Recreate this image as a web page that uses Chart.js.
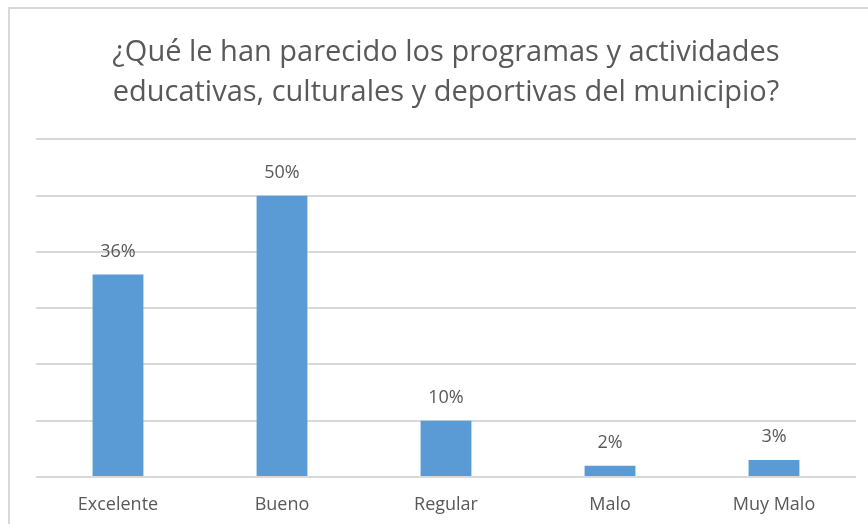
<!DOCTYPE html>
<html>
<head>
<meta charset="utf-8">
<script src="https://cdn.jsdelivr.net/npm/chart.js@4.4.1/dist/chart.umd.min.js"></script>
<style>
    html, body { margin: 0; padding: 0; background: #fff; overflow: hidden; }
    #frame { position: absolute; left: 8px; top: 7px; width: 900px; height: 560px; border: 2px solid #d9d9d9; }
    #wrap { position: absolute; left: 0; top: 0; width: 868px; height: 524px; }
</style>
</head>
<body>
<div id="frame"></div>
<div id="wrap"><canvas id="bar-chart"></canvas></div>
<script>
    var categories = ['Excelente', 'Bueno', 'Regular', 'Malo', 'Muy Malo'];
    var percentValues = [36, 50, 10, 2, 3];
    var titleLines = ['¿Qué le han parecido los programas y actividades', 'educativas, culturales y deportivas del municipio?'];

    var textColor = '#595959';
    var barColor = '#5b9bd5';
    var fontFamily = '"Open Sans", sans-serif';

    // value labels above each bar (no datalabels plugin available offline)
    var valueLabels = {
        id: 'valueLabels',
        afterDatasetsDraw: function (chart) {
            var ctx = chart.ctx;
            var meta = chart.getDatasetMeta(0);
            ctx.save();
            ctx.font = '18px ' + fontFamily;
            ctx.fillStyle = textColor;
            ctx.textAlign = 'center';
            ctx.textBaseline = 'middle';
            meta.data.forEach(function (bar, i) {
                ctx.fillText(percentValues[i] + '%', bar.x, bar.y - 23);
            });
            ctx.restore();
        }
    };

    var ctx = document.getElementById('bar-chart').getContext('2d');
    var chart = new Chart(ctx, {
        type: 'bar',
        data: {
            labels: categories,
            datasets: [{
                data: percentValues,
                backgroundColor: barColor,
                borderWidth: 0,
                categoryPercentage: 1,
                barPercentage: 0.31
            }]
        },
        options: {
            responsive: true, maintainAspectRatio: false, animation: false,
            layout: { padding: { left: 36, right: 12, top: 0, bottom: 0 } },
            plugins: {
                legend: { display: false },
                tooltip: { enabled: false },
                title: {
                    display: true,
                    text: titleLines,
                    color: textColor,
                    font: { family: fontFamily, size: 29, weight: 'normal', lineHeight: 1.37 },
                    padding: { top: 33, bottom: 27 }
                }
            },
            scales: {
                x: {
                    grid: { display: false, drawTicks: false },
                    border: { display: false },
                    ticks: { color: textColor, font: { family: fontFamily, size: 18 }, padding: 17 },
                    afterFit: function (scale) { scale.height = 47; }
                },
                y: {
                    min: 0, max: 60,
                    grid: { color: '#d9d9d9', lineWidth: 2, drawTicks: false },
                    border: { display: false },
                    ticks: { display: false, stepSize: 10 }
                }
            }
        },
        plugins: [valueLabels]
    });
</script>
</body>
</html>
